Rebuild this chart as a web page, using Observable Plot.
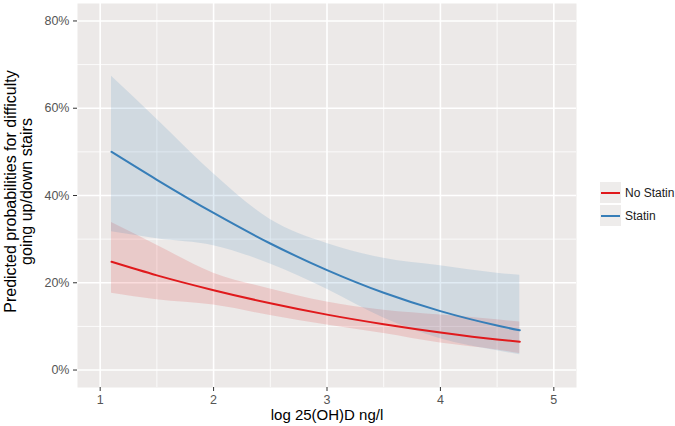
<!DOCTYPE html>
<html><head><meta charset="utf-8">
<script src="https://cdn.jsdelivr.net/npm/d3@7"></script>
<script src="https://cdn.jsdelivr.net/npm/@observablehq/plot@0.6"></script>
<style>
body{margin:0;background:#fff;font-family:"Liberation Sans",Arial,sans-serif;}
#wrap{position:relative;width:675px;height:426px;}
#wrap svg g[aria-label$="tick label"]{fill:#555;}
.legend{position:absolute;left:600px;top:181px;font-size:12px;color:#1a1a1a;}
.item{display:flex;align-items:center;height:23px;}
.key{width:21px;height:21px;background:#EEECEB;position:relative;margin-right:4px;}
.key span{position:absolute;left:1px;right:1px;top:9.5px;height:2px;}
</style></head><body><div id="wrap"></div>
<script>
const series = ["No Statin", "Statin"];
const seriesColors = ["#E0191C", "#377EB8"];
const xValues = [1.1, 1.5, 2, 2.5, 3, 3.5, 4, 4.5, 4.7];
const noStatinFit   = [0.248, 0.217, 0.183, 0.153, 0.127, 0.105, 0.086, 0.070, 0.065];
const noStatinUpper = [0.338, 0.286, 0.222, 0.186, 0.156, 0.137, 0.126, 0.115, 0.110];
const noStatinLower = [0.176, 0.161, 0.149, 0.125, 0.103, 0.084, 0.062, 0.046, 0.038];
const statinFit   = [0.500, 0.436, 0.360, 0.290, 0.229, 0.177, 0.135, 0.102, 0.091];
const statinUpper = [0.673, 0.575, 0.450, 0.345, 0.290, 0.256, 0.239, 0.222, 0.217];
const statinLower = [0.317, 0.301, 0.285, 0.243, 0.185, 0.119, 0.072, 0.044, 0.035];
const xTicks = [1, 2, 3, 4, 5];
const xMinor = [1.5, 2.5, 3.5, 4.5];
const yTicks = [0, 0.2, 0.4, 0.6, 0.8];
const yMinor = [0.1, 0.3, 0.5, 0.7];
const xTitle = "log 25(OH)D ng/l";
const yTitle = "Predicted probabilities for difficulty\ngoing up/down stairs";

const rows = [];
xValues.forEach((x, i) => {
  rows.push({series: "No Statin", x, fit: noStatinFit[i], lo: noStatinLower[i], hi: noStatinUpper[i]});
});
xValues.forEach((x, i) => {
  rows.push({series: "Statin", x, fit: statinFit[i], lo: statinLower[i], hi: statinUpper[i]});
});

const font = '"Liberation Sans", Arial, sans-serif';
const chart = Plot.plot({
  width: 675, height: 426,
  marginLeft: 77, marginRight: 99, marginTop: 3, marginBottom: 39,
  style: {fontFamily: font, background: "white"},
  x: {domain: [0.8, 5.2]},
  y: {domain: [-0.04, 0.84]},
  color: {domain: series, range: seriesColors},
  marks: [
    Plot.frame({fill: "#ECE9E8", stroke: null}),
    Plot.ruleY(yMinor, {stroke: "white", strokeWidth: 0.8}),
    Plot.ruleX(xMinor, {stroke: "white", strokeWidth: 0.8}),
    Plot.ruleY(yTicks, {stroke: "white", strokeWidth: 1.6}),
    Plot.ruleX(xTicks, {stroke: "white", strokeWidth: 1.6}),
    Plot.areaY(rows, {x: "x", y1: "lo", y2: "hi", z: "series", fill: "series", fillOpacity: 0.15, curve: "monotone-x"}),
    Plot.lineY(rows, {x: "x", y: "fit", z: "series", stroke: "series", strokeWidth: 2, curve: "monotone-x"}),
    Plot.axisX({ticks: xTicks, tickSize: 4, tickPadding: 4, fontSize: 12.5, stroke: "#333", label: null, tickFormat: d => String(d)}),
    Plot.axisY({ticks: yTicks, tickSize: 4, tickPadding: 4, fontSize: 12.5, stroke: "#333", label: null, tickFormat: d => Math.round(d * 100) + "%"}),
    Plot.text([xTitle], {frameAnchor: "bottom", dy: 28, fontSize: 15, fill: "black", lineAnchor: "middle"}),
    Plot.text([yTitle], {frameAnchor: "left", dx: -59, dy: -4, rotate: -90, fontSize: 16, fill: "black", lineAnchor: "middle", textAnchor: "middle"})
  ]
});
const wrap = document.getElementById("wrap");
wrap.appendChild(chart);

const legend = document.createElement("div");
legend.className = "legend";
series.forEach((s, i) => {
  const item = document.createElement("div");
  item.className = "item";
  const key = document.createElement("div");
  key.className = "key";
  const ln = document.createElement("span");
  ln.style.background = seriesColors[i];
  key.appendChild(ln);
  const lab = document.createElement("div");
  lab.textContent = s;
  item.appendChild(key);
  item.appendChild(lab);
  legend.appendChild(item);
});
wrap.appendChild(legend);
</script></body></html>
